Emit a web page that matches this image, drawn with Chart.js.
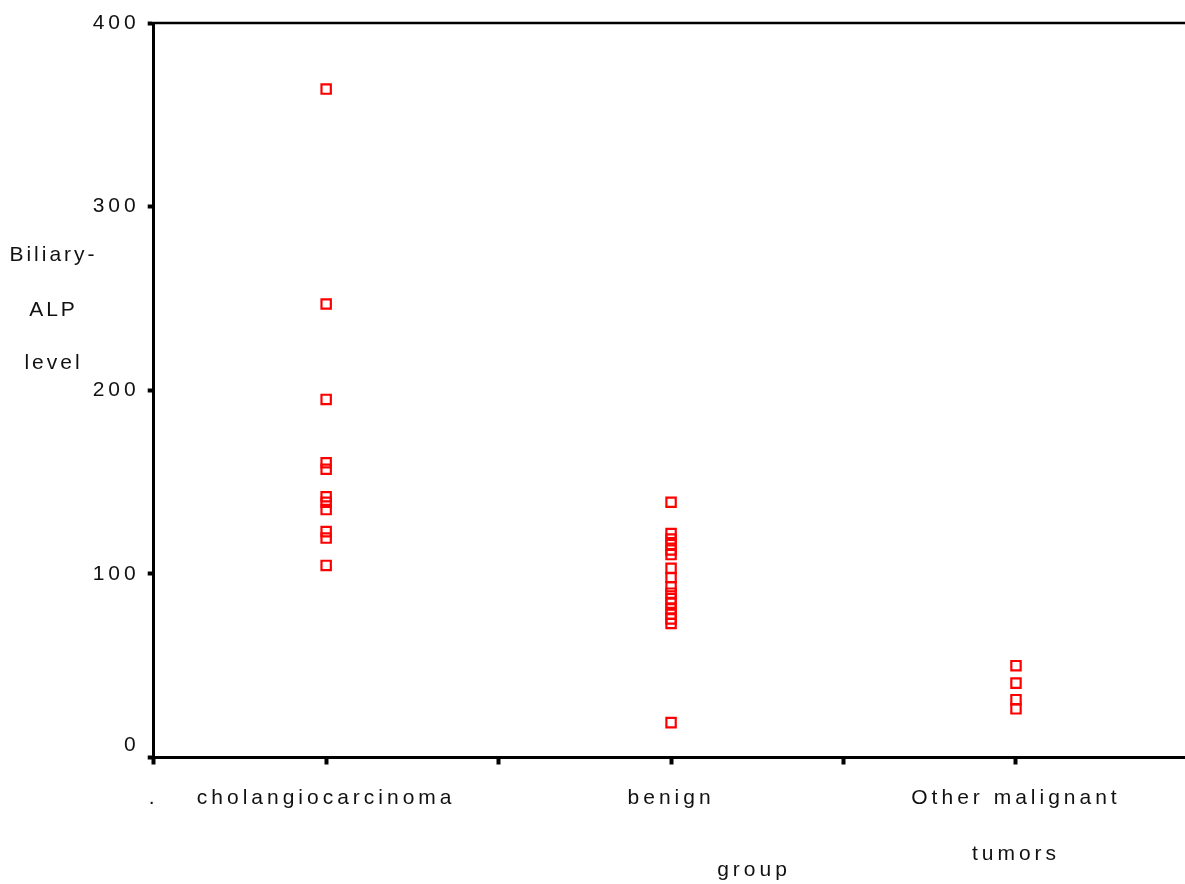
<!DOCTYPE html>
<html>
<head>
<meta charset="utf-8">
<script src="https://cdn.jsdelivr.net/npm/chart.js@4/dist/chart.umd.min.js"></script>
<style>
  html, body { margin: 0; padding: 0; background: #fff; }
  #wrap { width: 1185px; height: 884px; position: relative; }
</style>
</head>
<body>
<div id="wrap"><canvas id="c" width="1185" height="884"></canvas></div>
<script>
// ---- data ----
const categories = ['cholangiocarcinoma', 'benign', ['Other malignant', 'tumors']];
const categoryPositions = [1, 2, 3];
const cholangiocarcinomaValues = [364, 247, 195, 160.5, 157, 142, 139, 135, 123, 119.5, 104.6];
const benignValues = [139, 122, 119, 116, 113, 110.5, 103, 98, 93, 89.5, 86.5, 84, 81, 78, 75.5, 73, 19];
const otherMalignantValues = [50, 40.5, 31.5, 26.5];
const yTickValues = [0, 100, 200, 300, 400];
const xTickValues = [0.5, 1, 1.5, 2, 2.5, 3];
const yTitleLines = ['Biliary-', 'ALP', 'level'];
const xTitle = 'group';

const FONT = "'Liberation Sans', Arial, sans-serif";
const toPoints = (pos, vals) => vals.map(v => ({ x: pos, y: v }));
const seriesValues = [cholangiocarcinomaValues, benignValues, otherMalignantValues];

const pointStyle = {
  pointStyle: 'rect',
  pointRadius: 6.6,
  pointHoverRadius: 6.6,
  borderWidth: 2.2,
  pointBorderWidth: 2.2,
  borderColor: '#ff0000',
  backgroundColor: 'rgba(0,0,0,0)',
  showLine: false
};

const textPlugin = {
  id: 'extraText',
  beforeDraw(chart) {
    chart.ctx.letterSpacing = '4px';
  },
  afterDraw(chart) {
    const ctx = chart.ctx;
    const area = chart.chartArea;
    ctx.save();
    // top frame line
    ctx.strokeStyle = '#000';
    ctx.lineWidth = 2.5;
    ctx.beginPath();
    ctx.moveTo(area.left - 1.5, area.top);
    ctx.lineTo(area.right, area.top);
    ctx.stroke();
    ctx.fillStyle = '#111';
    ctx.font = '21px ' + FONT;
    ctx.textAlign = 'center';
    ctx.textBaseline = 'middle';
    // y title (horizontal, three lines)
    ctx.letterSpacing = '3px';
    const yLineY = [255, 310, 363];
    yTitleLines.forEach((t, i) => ctx.fillText(t, 53.5, yLineY[i]));
    // x title
    ctx.letterSpacing = '4px';
    ctx.fillText(xTitle, 754, 870);
    ctx.restore();
  }
};

new Chart(document.getElementById('c'), {
  type: 'scatter',
  data: {
    datasets: seriesValues.map((vals, i) => Object.assign({
      label: Array.isArray(categories[i]) ? categories[i].join(' ') : categories[i],
      data: toPoints(categoryPositions[i], vals)
    }, pointStyle))
  },
  options: {
    responsive: false,
    animation: false,
    events: [],
    layout: { autoPadding: false, padding: { top: 23, right: 0, left: 0, bottom: 0 } },
    plugins: { legend: { display: false }, tooltip: { enabled: false } },
    scales: {
      x: {
        type: 'linear',
        min: 0.5,
        max: 3.49,
        afterFit: s => { s.height = 884 - 757.5; s.paddingLeft = 0; s.paddingRight = 0; },
        afterBuildTicks: s => { s.ticks = xTickValues.map(v => ({ value: v })); },
        border: { display: true, color: '#000', width: 3 },
        grid: { drawOnChartArea: false, drawTicks: true, tickLength: 7, tickWidth: 4, tickColor: '#000' },
        ticks: {
          autoSkip: false,
          maxRotation: 0,
          padding: 6,
          color: '#111',
          font: { family: FONT, size: 21, lineHeight: 2.65 },
          callback: v => {
            if (v === 0.5) return '.';
            const idx = categoryPositions.indexOf(v);
            return idx >= 0 ? categories[idx] : '';
          }
        }
      },
      y: {
        min: 0,
        max: 400,
        afterFit: s => { s.width = 153.7; s.paddingTop = 0; s.paddingBottom = 0; },
        afterBuildTicks: s => { s.ticks = yTickValues.map(v => ({ value: v })); },
        border: { display: true, color: '#000', width: 3 },
        grid: { drawOnChartArea: false, drawTicks: true, tickLength: 6, tickWidth: 4, tickColor: '#000' },
        ticks: {
          padding: 8,
          color: '#111',
          font: { family: FONT, size: 21 },
          callback: v => (v === 0 ? ['0', ''] : String(v))
        }
      }
    }
  },
  plugins: [textPlugin]
});
</script>
</body>
</html>
